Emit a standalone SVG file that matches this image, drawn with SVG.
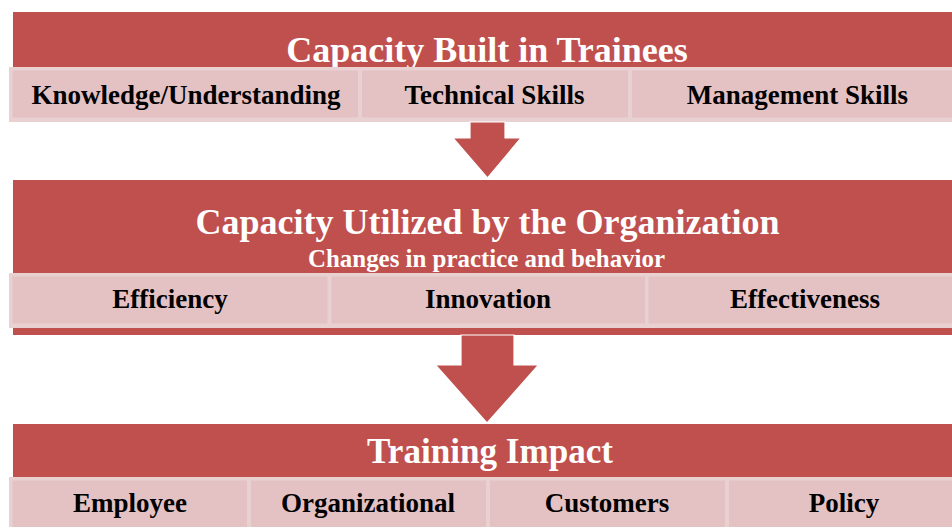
<svg xmlns="http://www.w3.org/2000/svg" width="952" height="527" viewBox="0 0 952 527">
  <style>
    .band { fill: #C0504D; }
    .row { fill: #E9D0D1; }
    .cell { fill: #E4C2C3; }
    .title { font-family: "Liberation Serif", "Times New Roman", serif; font-weight: bold; font-size: 36px; fill: #FFFFFF; text-anchor: middle; }
    .sub { font-family: "Liberation Serif", "Times New Roman", serif; font-weight: bold; font-size: 26px; fill: #FFFFFF; text-anchor: middle; }
    .label { font-family: "Liberation Serif", "Times New Roman", serif; font-weight: bold; font-size: 27px; fill: #000000; text-anchor: middle; }
    .arrow { fill: #C0504D; stroke: #FFFFFF; stroke-width: 1.2; stroke-linejoin: miter; }
  </style>

  <rect width="952" height="527" fill="#FFFFFF"/>

  <!-- Level 1: capacity built -->
  <g id="capacity-built">
    <rect class="band" x="13" y="12" width="945" height="56"/>
    <text class="title" x="487" y="62">Capacity Built in Trainees</text>
    <rect class="row" x="9" y="67" width="960" height="55"/>
    <g id="knowledge">
      <rect class="cell" x="12.5" y="70.5" width="345.5" height="47"/>
      <text class="label" x="186" y="104">Knowledge/Understanding</text>
    </g>
    <g id="technical-skills">
      <rect class="cell" x="362" y="70.5" width="266" height="47"/>
      <text class="label" x="494.5" y="104">Technical Skills</text>
    </g>
    <g id="management-skills">
      <rect class="cell" x="632" y="70.5" width="334" height="47"/>
      <text class="label" x="797.5" y="104">Management Skills</text>
    </g>
  </g>

  <!-- Level 2: capacity utilized -->
  <g id="capacity-utilized">
    <rect class="band" x="13" y="180" width="945" height="155"/>
    <text class="title" x="487.5" y="234">Capacity Utilized by the Organization</text>
    <text class="sub" x="486.5" y="267" textLength="357" lengthAdjust="spacingAndGlyphs">Changes in practice and behavior</text>
    <rect class="row" x="9" y="273" width="960" height="55"/>
    <g id="efficiency">
      <rect class="cell" x="12.5" y="276.5" width="315" height="47"/>
      <text class="label" x="170" y="308">Efficiency</text>
    </g>
    <g id="innovation">
      <rect class="cell" x="331.5" y="276.5" width="313.5" height="47"/>
      <text class="label" x="488" y="308">Innovation</text>
    </g>
    <g id="effectiveness">
      <rect class="cell" x="648.5" y="276.5" width="317.5" height="47"/>
      <text class="label" x="805" y="308">Effectiveness</text>
    </g>
  </g>

  <!-- Level 3: impact -->
  <g id="training-impact">
    <rect class="band" x="13" y="424" width="945" height="54"/>
    <text class="title" x="490" y="463" textLength="246" lengthAdjust="spacingAndGlyphs">Training Impact</text>
    <rect class="row" x="9" y="477" width="960" height="55"/>
    <g id="employee">
      <rect class="cell" x="12.5" y="480.5" width="234.5" height="50"/>
      <text class="label" x="130" y="512">Employee</text>
    </g>
    <g id="organizational">
      <rect class="cell" x="251" y="480.5" width="235" height="50"/>
      <text class="label" x="368" y="512">Organizational</text>
    </g>
    <g id="customers">
      <rect class="cell" x="490" y="480.5" width="235" height="50"/>
      <text class="label" x="607" y="512">Customers</text>
    </g>
    <g id="policy">
      <rect class="cell" x="729" y="480.5" width="237" height="50"/>
      <text class="label" x="844" y="512">Policy</text>
    </g>
  </g>

  <!-- Block arrows between levels -->
  <g id="connectors">
    <path class="arrow" d="M470,122 H505 V138 H521 L487.5,178 L453,138 H470 Z"/>
    <path class="arrow" d="M461,335 H514 V365 H538.5 L487,423 L435.5,365 H461 Z"/>
  </g>
</svg>
